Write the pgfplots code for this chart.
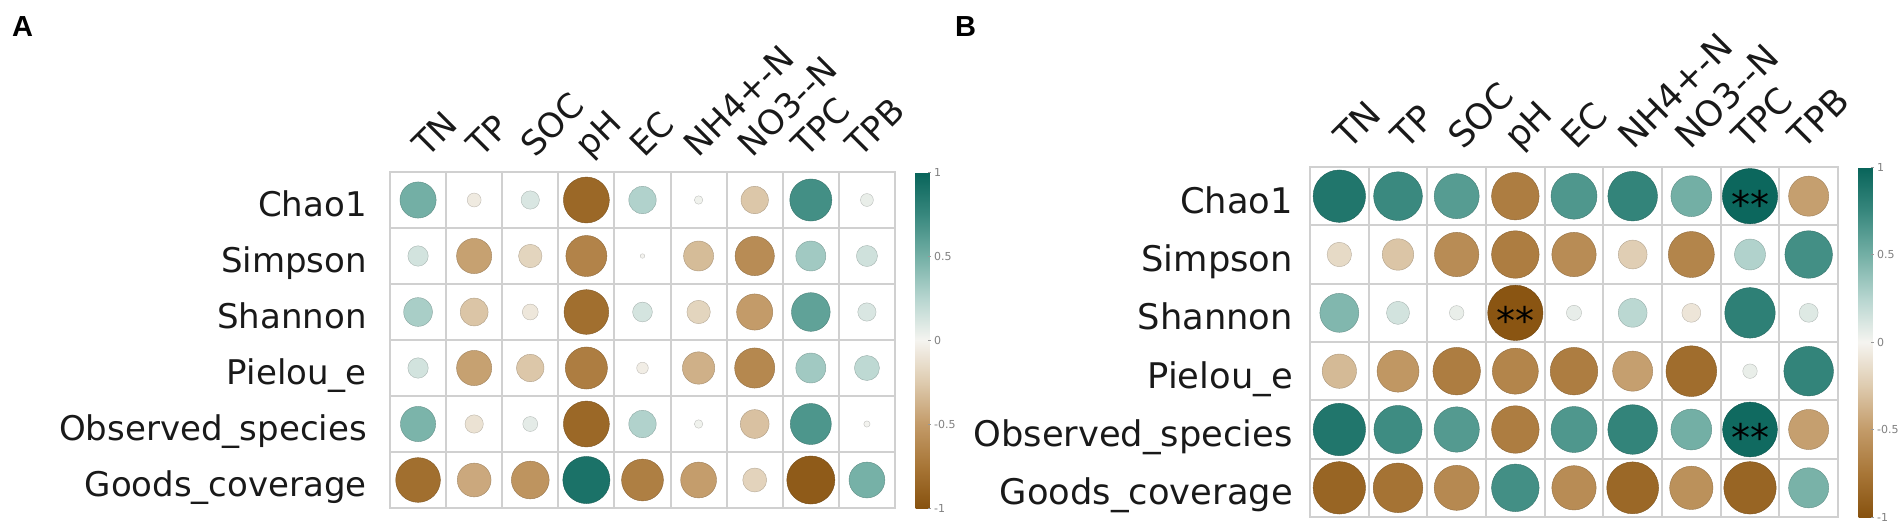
\documentclass[border=0pt]{standalone}
\usepackage{fontspec}
\setmainfont{DejaVu Sans}
\newfontfamily\arialfont{Liberation Sans}
\usepackage{pgfplots}
\pgfplotsset{compat=1.18}
\usepackage{pgfplotstable}
\definecolor{gridgray}{RGB}{208,208,208}
\definecolor{txt}{RGB}{25,25,25}
\newcommand\lblA{\fontsize{34}{40}\selectfont}
\newcommand\lblB{\fontsize{35.3}{42}\selectfont}
\newcommand\cbfont{\fontsize{11}{12}\selectfont}
\pgfplotsset{
  colormap={brbg}{rgb255(0cm)=(135,82,15); rgb255(1cm)=(168,118,55); rgb255(2cm)=(195,155,105); rgb255(3cm)=(222,203,175); rgb255(4cm)=(245,244,240); rgb255(5cm)=(182,213,207); rgb255(6cm)=(115,175,165); rgb255(7cm)=(55,135,125); rgb255(8cm)=(8,100,90)},
  corrbase/.style={
    scale only axis,
    xmin=0.5,xmax=9.5,ymin=0.5,ymax=6.5,
    ytick={1,...,6},
    xticklabels={TN,TP,SOC,pH,EC,NH4+-N,NO3-{}-N,TPC,TPB},
    yticklabels={Goods\_coverage,Observed\_species,Pielou\_e,Shannon,Simpson,Chao1},
    xticklabel pos=right,
    major tick length=0pt, minor tick length=0pt,
    minor xtick={1.5,2.5,...,8.5}, minor ytick={1.5,2.5,...,5.5},
    xminorgrids, yminorgrids,
    minor grid style={draw=gridgray, line width=2pt},
    axis line style={draw=gridgray, line width=2pt},
    point meta min=-1, point meta max=1,
    colormap name=brbg,
    colorbar,
  },
  cbstyle/.style={
    colorbar style={
      at={(parent axis.north east)}, anchor=north west, xshift=12pt,
      scale only axis, width=15pt,
      minor ytick={}, yminorgrids=false, xminorgrids=false,
      ytick={-1,-0.5,0,0.5,1}, yticklabels={-1,-0.5,0,0.5,1},
      every y tick label/.style={font=\cbfont, text=gray},
      ytick pos=right, yticklabel pos=right,
      major tick length=3pt, tick style={draw=gray!80, line width=0.8pt},
      axis line style={draw=none},
    },
  },
}
\pgfplotstableread{
x y r
1 6 0.50
2 6 -0.06
3 6 0.11
4 6 -0.85
5 6 0.27
6 6 0.02
7 6 -0.27
8 6 0.70
9 6 0.05
1 5 0.14
2 5 -0.47
3 5 -0.19
4 5 -0.66
5 5 0.005
6 5 -0.33
7 5 -0.60
8 5 0.33
9 5 0.15
1 4 0.30
2 4 -0.28
3 4 -0.08
4 4 -0.80
5 4 0.13
6 4 -0.19
7 4 -0.50
8 4 0.58
9 4 0.11
1 3 0.14
2 3 -0.47
3 3 -0.27
4 3 -0.70
5 3 -0.04
6 3 -0.39
7 3 -0.63
8 3 0.33
9 3 0.22
1 2 0.47
2 2 -0.11
3 2 0.07
4 2 -0.85
5 2 0.27
6 2 0.02
7 2 -0.30
8 2 0.66
9 2 0.01
1 1 -0.80
2 1 -0.43
3 1 -0.55
4 1 0.90
5 1 -0.69
6 1 -0.49
7 1 -0.20
8 1 -0.94
9 1 0.49
}\dataA
\pgfplotstableread{
x y r
1 6 0.87
2 6 0.74
3 6 0.62
4 6 -0.70
5 6 0.65
6 6 0.77
7 6 0.50
8 6 0.98
9 6 -0.48
1 5 -0.16
2 5 -0.28
3 5 -0.60
4 5 -0.70
5 5 -0.60
6 5 -0.23
7 5 -0.65
8 5 0.27
9 5 0.70
1 4 0.45
2 4 0.14
3 4 0.05
4 4 -0.98
5 4 0.055
6 4 0.23
7 4 -0.09
8 4 0.80
9 4 0.09
1 3 -0.34
2 3 -0.53
3 3 -0.70
4 3 -0.65
5 3 -0.70
6 3 -0.48
7 3 -0.81
8 3 0.05
9 3 0.77
1 2 0.87
2 2 0.72
3 2 0.63
4 2 -0.70
5 2 0.65
6 2 0.77
7 2 0.50
8 2 0.96
9 2 -0.48
1 1 -0.87
2 1 -0.77
3 1 -0.62
4 1 0.70
5 1 -0.60
6 1 -0.85
7 1 -0.57
8 1 -0.87
9 1 0.48
}\dataB
\begin{document}
\begin{tikzpicture}
\path[use as bounding box] (0pt,0pt) rectangle (1902pt,-531pt);
\node[anchor=base west, inner sep=0pt, text=black] at (12pt,-36pt) {\arialfont\fontsize{29}{34}\selectfont\bfseries A};
\node[anchor=base west, inner sep=0pt, text=black] at (955pt,-36pt) {\arialfont\fontsize{29}{34}\selectfont\bfseries B};
% Panel A
\begin{axis}[corrbase, cbstyle,
  at={(390pt,-172pt)}, anchor=north west,
  width=505pt, height=336pt,
  xtick={1,1.966,2.932,3.898,4.864,5.83,6.796,7.762,8.728},
  xticklabel style={font=\lblA, text=txt, inner sep=0pt, xshift=9pt, yshift=13pt, rotate=45, anchor=base west},
  yticklabel style={font=\lblA, text=txt, inner sep=0pt, xshift=-23pt, yshift=-4pt, anchor=east, text height=25pt, text depth=0pt},
]
\addplot[scatter, only marks, mark=*, scatter src=explicit,
  visualization depends on={24.7*abs(\thisrow{r})^0.45 \as \rad},
  scatter/@pre marker code/.append style={/tikz/mark size=\rad}]
  table[x=x, y=y, meta=r] {\dataA};
\end{axis}
% Panel B
\begin{axis}[corrbase, cbstyle,
  at={(1310pt,-167pt)}, anchor=north west,
  width=528pt, height=350pt,
  xtick={1,1.968,2.936,3.904,4.872,5.84,6.808,7.776,8.744},
  xticklabel style={font=\lblB, text=txt, inner sep=0pt, xshift=10pt, yshift=16pt, rotate=45, anchor=base west},
  yticklabel style={font=\lblB, text=txt, inner sep=0pt, xshift=-17pt, yshift=-4pt, anchor=east, text height=26pt, text depth=0pt},
]
\addplot[scatter, only marks, mark=*, scatter src=explicit,
  visualization depends on={27.9*abs(\thisrow{r})^0.45 \as \rad},
  scatter/@pre marker code/.append style={/tikz/mark size=\rad}]
  table[x=x, y=y, meta=r] {\dataB};
\addplot[only marks, mark=none, point meta=explicit symbolic, nodes near coords,
  nodes near coords style={anchor=center, font=\fontsize{38}{40}\selectfont, text=black, inner sep=0pt, yshift=-8pt}]
  coordinates {(8,6) [**] (4,4) [**] (8,2) [**]};
\end{axis}
\end{tikzpicture}
\end{document}
